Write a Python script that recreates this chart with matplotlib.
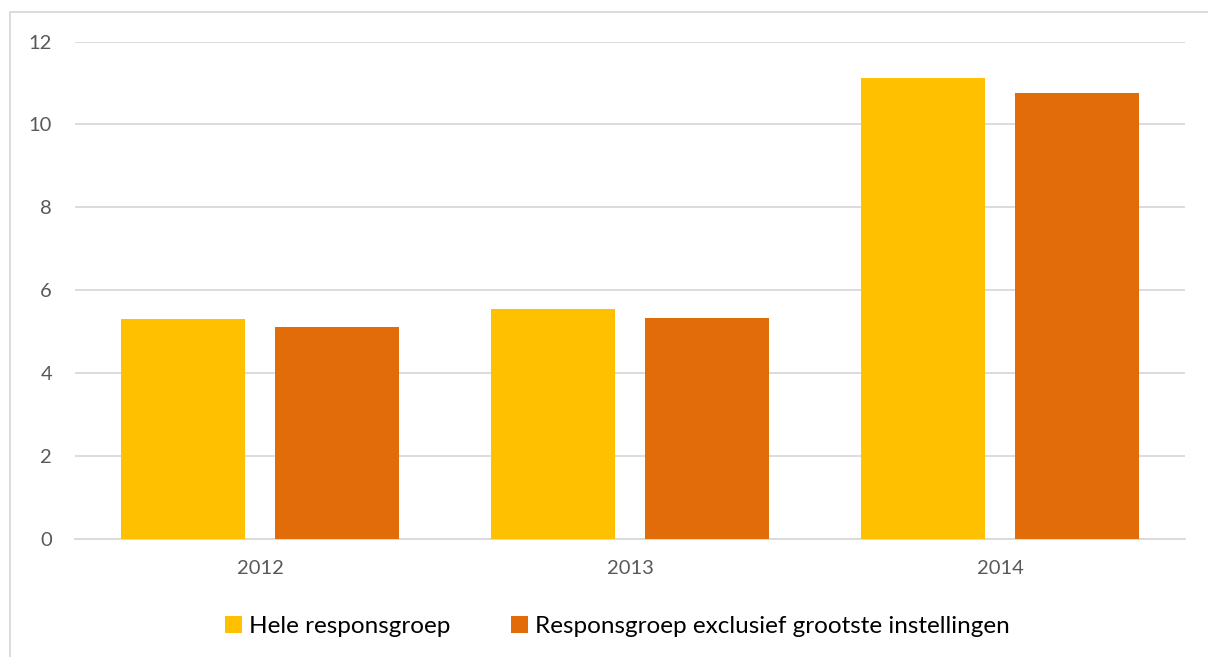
import numpy as np
import matplotlib.pyplot as plt
from matplotlib.patches import Rectangle

years = ['2012', '2013', '2014']
hele = [5.31, 5.55, 11.13]
exclusief = [5.11, 5.33, 10.76]
series_names = ['Hele responsgroep', 'Responsgroep exclusief grootste instellingen']

plt.rcParams['font.family'] = ['Lato', 'DejaVu Sans']

fig = plt.figure(figsize=(12.08, 6.57), dpi=100)
ax = fig.add_axes([0.0621, 0.1796, 0.9189, 0.7572])

x = np.arange(len(years))
w = 0.333
ax.bar(x - 0.208, hele, w, color='#FFC000', label=series_names[0], zorder=3)
ax.bar(x + 0.208, exclusief, w, color='#E36C0A', label=series_names[1], zorder=3)

ax.set_xlim(-0.5, 2.5)
ax.set_ylim(0, 12)
ax.set_yticks(range(0, 13, 2))
ax.set_xticks(x)
ax.set_xticklabels(years)
ax.grid(axis='y', color='#d9d9d9', linewidth=1.3, zorder=0)
for s in ['top', 'right', 'left']:
    ax.spines[s].set_visible(False)
ax.spines['bottom'].set_color('#d9d9d9')
ax.spines['bottom'].set_linewidth(1.3)
ax.tick_params(length=0, labelsize=14.5, labelcolor='#595959')
ax.tick_params(axis='x', pad=15)
ax.tick_params(axis='y', pad=16.5)

leg = fig.legend(loc='center', bbox_to_anchor=(0.511, 0.047), ncol=2, frameon=False,
                 fontsize=17.5, handlelength=0.7, handleheight=0.7, handletextpad=0.3,
                 columnspacing=2.5)

# light chart-area border
fig.add_artist(Rectangle((10 / 1208, -0.05), 1.1, 1 - 12 / 657 + 0.05, transform=fig.transFigure,
                         fill=False, edgecolor='#d9d9d9', linewidth=1.3))

fig.savefig('out.png', dpi=100)
